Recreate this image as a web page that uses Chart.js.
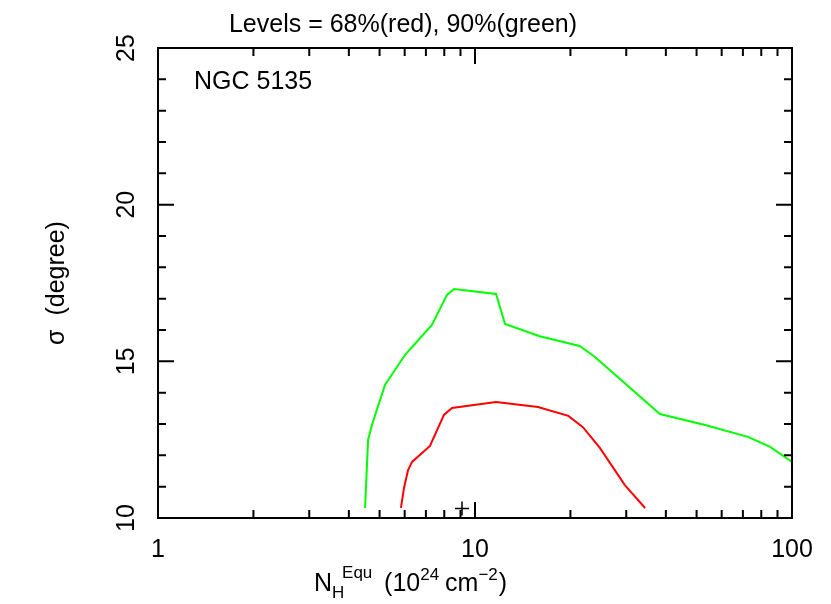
<!DOCTYPE html><html><head><script src="https://cdn.jsdelivr.net/npm/chart.js@4"></script>
<style>body{margin:0;background:#fff}#w{width:831px;height:604px}</style></head><body><div id="w"><canvas id="c"></canvas></div>
<script>
const greenX=[4.5,4.6,4.73,5.2,6.01,7.31,8.16,8.59,11.65,12.44,16.0,21.4,23.9,38.3,53.2,72.6,85.3,100];
const greenY=[10.32,12.49,12.97,14.25,15.2,16.16,17.12,17.31,17.15,16.19,15.8,15.49,15.14,13.32,12.97,12.59,12.27,11.79];
const redX=[5.84,5.97,6.15,6.33,7.21,7.98,8.46,11.65,15.8,19.7,21.9,24.8,29.7,34.4];
const redY=[10.32,10.96,11.53,11.79,12.3,13.29,13.51,13.7,13.54,13.26,12.9,12.23,11.05,10.32];
const bestX=[9.1], bestY=[10.3];
const xTicks=[1,10,100], yTicks=[10,15,20,25];
const pts=(a,b)=>a.map((v,i)=>({x:v,y:b[i]}));
const F='"Liberation Sans", Arial, sans-serif';
const deco={id:'deco',afterDraw(ch){
 const c=ch.ctx,a=ch.chartArea,xs=ch.scales.x,ys=ch.scales.y;
 c.save();c.strokeStyle='#000';c.lineWidth=2;c.strokeRect(a.left,a.top,a.right-a.left,a.bottom-a.top);
 c.beginPath();
 for(let d=1;d<=100;d*=10)for(let m=1;m<10;m++){const v=d*m;if(v>100)break;const p=xs.getPixelForValue(v);const L=(m==1)?16:8;
  c.moveTo(p,a.bottom);c.lineTo(p,a.bottom-L);c.moveTo(p,a.top);c.lineTo(p,a.top+L);}
 for(let v=10;v<=25;v++){const p=ys.getPixelForValue(v);const L=(v%5==0)?16:8;
  c.moveTo(a.left,p);c.lineTo(a.left+L,p);c.moveTo(a.right,p);c.lineTo(a.right-L,p);}
 c.stroke();
 c.fillStyle='#000';c.textBaseline='alphabetic';
 c.font='25px '+F;c.textAlign='center';c.fillText('Levels = 68%(red), 90%(green)',403,32);
 c.textAlign='left';c.fillText('NGC 5135',194,89);
 yTicks.forEach(v=>{c.save();c.translate(134,ys.getPixelForValue(v));c.rotate(-Math.PI/2);c.textAlign='center';c.fillText(String(v),0,0);c.restore();});
 c.save();c.translate(64,283);c.rotate(-Math.PI/2);c.textAlign='center';c.fillText('σ  (degree)',0,0);c.restore();
 let x=314,y=591;c.textAlign='left';c.font='25px '+F;c.fillText('N',x,y);x+=c.measureText('N').width;
 c.font='17px '+F;c.fillText('H',x,y+7);c.fillText('Equ',x+10,y-13);x+=52;
 c.font='25px '+F;c.fillText('(10',x,y);x+=c.measureText('(10').width;
 c.font='17px '+F;c.fillText('24',x,y-11);x+=c.measureText('24').width+6;
 c.font='25px '+F;c.fillText('cm',x,y);x+=c.measureText('cm').width;
 c.font='17px '+F;c.fillText('−2',x,y-11);x+=c.measureText('−2').width+1;
 c.font='25px '+F;c.fillText(')',x,y);
 c.restore();}};
new Chart(document.getElementById('c'),{type:'scatter',
 data:{datasets:[
  {data:pts(greenX,greenY),showLine:true,borderColor:'#00ff00',borderWidth:2,pointRadius:0,tension:0},
  {data:pts(redX,redY),showLine:true,borderColor:'#ff0000',borderWidth:2,pointRadius:0,tension:0},
  {data:pts(bestX,bestY),pointStyle:'cross',pointRadius:7,borderColor:'#000',borderWidth:1.5}]},
 options:{responsive:true,maintainAspectRatio:false,animation:false,
  layout:{padding:{top:48,right:39,left:0,bottom:0}},
  plugins:{legend:{display:false},tooltip:{enabled:false}},
  scales:{
   x:{type:'logarithmic',min:1,max:100,grid:{display:false},border:{display:false},
     afterBuildTicks:s=>{s.ticks=xTicks.map(v=>({value:v}))},afterFit:s=>{s.height=86},
     ticks:{color:'#000',font:{size:25,family:F},padding:9,maxRotation:0,callback:v=>String(v)}},
   y:{min:10,max:25,grid:{display:false},border:{display:false},
     afterBuildTicks:s=>{s.ticks=yTicks.map(v=>({value:v}))},afterFit:s=>{s.width=158},
     ticks:{display:false}}}},
 plugins:[deco]});
</script></body></html>
